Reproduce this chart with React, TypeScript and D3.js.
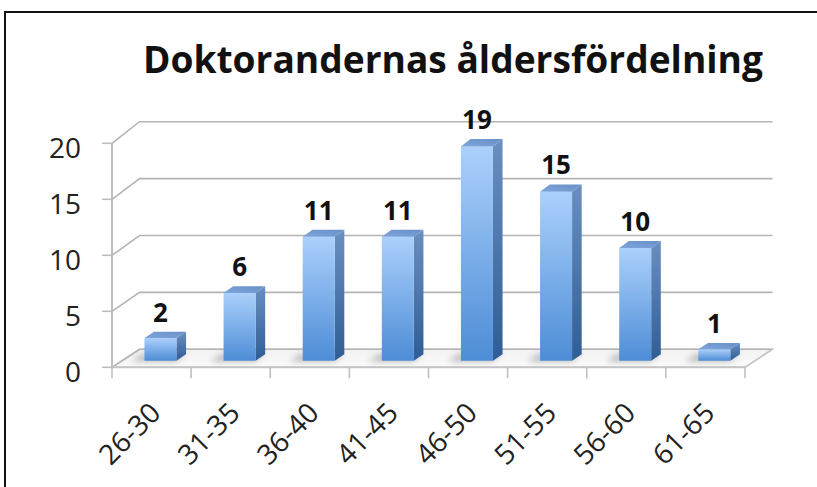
import React from "react";
import * as d3 from "d3";

const title = "Doktorandernas åldersfördelning";
const categories = ["26-30", "31-35", "36-40", "41-45", "46-50", "51-55", "56-60", "61-65"];
const values = [2, 6, 11, 11, 19, 15, 10, 1];
const yTicks = [0, 5, 10, 15, 20];

const W = 817;
const H = 487;

export default function App() {
  const x = d3.scaleBand<string>().domain(categories).range([112, 745]);
  const yFront = d3.scaleLinear().domain([0, 20]).range([367.3, 143.3]);
  const yBack = d3.scaleLinear().domain([0, 20]).range([349.3, 121.7]);
  const DX = 27.5;
  const P = (xf: number, v: number, d: number): [number, number] => [
    xf + DX * d,
    yFront(v) + (yBack(v) - yFront(v)) * d,
  ];
  const poly = (pts: [number, number][]) => pts.map((p) => p.join(",")).join(" ");
  const [x0, x1] = x.range();
  const d0 = 0.37;
  const d1 = 0.72;
  const bw = 32;
  const font = "'Open Sans', 'DejaVu Sans', sans-serif";

  return (
    <svg width={W} height={H} style={{ position: "absolute", left: 0, top: 0, background: "#fff" }}>
      <defs>
        <linearGradient id="gFront" x1="0" y1="0" x2="0" y2="1">
          <stop offset="0" stopColor="#abd0fc" />
          <stop offset="1" stopColor="#4d8dd6" />
        </linearGradient>
        <linearGradient id="gSide" x1="0" y1="0" x2="0" y2="1">
          <stop offset="0" stopColor="#6a8fc0" />
          <stop offset="1" stopColor="#2f5d95" />
        </linearGradient>
        <linearGradient id="gTop" x1="0" y1="1" x2="1" y2="0">
          <stop offset="0" stopColor="#7ea6dc" />
          <stop offset="1" stopColor="#6890c8" />
        </linearGradient>
        <linearGradient id="gFloor" x1="0" y1="0" x2="0" y2="1">
          <stop offset="0" stopColor="#f2f2f2" />
          <stop offset="1" stopColor="#fafafa" />
        </linearGradient>
        <filter id="blur" x="-50%" y="-50%" width="200%" height="200%">
          <feGaussianBlur stdDeviation="3" />
        </filter>
      </defs>

      <rect x={5} y={12} width={900} height={600} fill="none" stroke="#111" strokeWidth={2} />

      <text
        x={453}
        y={73}
        textAnchor="middle"
        fontFamily={font}
        fontWeight={700}
        fontSize={38}
        textLength={620}
        lengthAdjust="spacingAndGlyphs"
        fill="#111"
      >
        {title}
      </text>

      {/* floor */}
      <polygon
        points={poly([P(x0, 0, 0), P(x1, 0, 0), P(x1, 0, 1), P(x0, 0, 1)])}
        fill="url(#gFloor)"
        stroke="#cfcfcf"
        strokeWidth={1.5}
      />

      {/* gridlines: side diagonal + back wall */}
      {yTicks.map((v) => {
        const a = P(x0, v, 0);
        const b = P(x0, v, 1);
        const c = P(x1, v, 1);
        return (
          <polyline
            key={"g" + v}
            points={poly([a, b, c])}
            fill="none"
            stroke="#b4b4b4"
            strokeWidth={1.6}
          />
        );
      })}

      {/* front floor edge */}
      <line x1={x0} x2={x1} y1={yFront(0)} y2={yFront(0)} stroke="#c4c4c4" strokeWidth={2} />
      <line
        x1={P(x1, 0, 0)[0]}
        y1={P(x1, 0, 0)[1]}
        x2={P(x1, 0, 1)[0]}
        y2={P(x1, 0, 1)[1]}
        stroke="#c4c4c4"
        strokeWidth={1.5}
      />

      {/* category ticks */}
      {d3.range(categories.length + 1).map((i) => {
        const xx = x0 + i * x.bandwidth();
        return (
          <line key={"ct" + i} x1={xx} x2={xx} y1={yFront(0)} y2={yFront(0) + 11} stroke="#c0c0c0" strokeWidth={1.6} />
        );
      })}

      {/* y axis */}
      <line x1={x0} x2={x0} y1={yFront(20)} y2={yFront(0)} stroke="#bdbdbd" strokeWidth={2} />
      {yTicks.map((v) => (
        <g key={"yt" + v}>
          <line x1={x0 - 10} x2={x0} y1={yFront(v)} y2={yFront(v)} stroke="#bdbdbd" strokeWidth={1.6} />
          <text
            x={81}
            y={yFront(v) + 4}
            textAnchor="end"
            dominantBaseline="central"
            fontFamily={font}
            fontSize={28}
            fill="#222"
          >
            {v}
          </text>
        </g>
      ))}

      {/* shadows */}
      {categories.map((c) => {
        const cx = (x(c) as number) + x.bandwidth() / 2 - 1.3;
        const xl = cx - bw / 2;
        const xr = cx + bw / 2;
        return (
          <polygon
            key={"s" + c}
            points={poly([P(xl - 12, 0, d0 - 0.05), P(xr, 0, d0 - 0.05), P(xr, 0, d1), P(xl - 12, 0, d1)])}
            fill="#8f8f8f"
            opacity={0.6}
            filter="url(#blur)"
          />
        );
      })}

      {/* bars */}
      {categories.map((c, i) => {
        const v = values[i];
        const cx = (x(c) as number) + x.bandwidth() / 2 - 1.3;
        const xl = cx - bw / 2;
        const xr = cx + bw / 2;
        const front = [P(xl, 0, d0), P(xr, 0, d0), P(xr, v, d0), P(xl, v, d0)];
        const side = [P(xr, 0, d0), P(xr, 0, d1), P(xr, v, d1), P(xr, v, d0)];
        const top = [P(xl, v, d0), P(xr, v, d0), P(xr, v, d1), P(xl, v, d1)];
        const labelY = P(xl, v, d1)[1] - 10;
        const labelX = (P(xl, v, d0)[0] + P(xr, v, d0)[0]) / 2;
        return (
          <g key={"b" + c}>
            <polygon points={poly(side)} fill="url(#gSide)" />
            <polygon points={poly(front)} fill="url(#gFront)" />
            <polygon points={poly(top)} fill="url(#gTop)" />
            <text
              x={labelX}
              y={labelY}
              textAnchor="middle"
              fontFamily={font}
              fontWeight={700}
              fontSize={26}
              fill="#111"
            >
              {v}
            </text>
          </g>
        );
      })}

      {/* x labels */}
      {categories.map((c) => {
        const cx = (x(c) as number) + x.bandwidth() / 2 + 3;
        const cy = 407;
        return (
          <text
            key={"xl" + c}
            transform={`translate(${cx},${cy}) rotate(-45)`}
            textAnchor="end"
            dominantBaseline="central"
            fontFamily={font}
            fontSize={28}
            fill="#222"
          >
            {c}
          </text>
        );
      })}
    </svg>
  );
}
